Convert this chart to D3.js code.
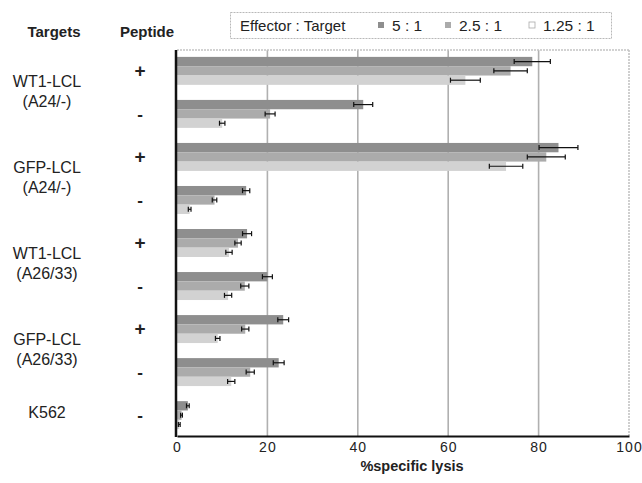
<!DOCTYPE html>
<html>
<head>
<meta charset="utf-8">
<script src="https://cdn.jsdelivr.net/npm/d3@7"></script>
<style>
  body { margin: 0; background: #fff; }
  text { font-family: "Liberation Sans", Arial, sans-serif; fill: #222; }
</style>
</head>
<body>
<script>
const WIDTH = 642;
const HEIGHT = 483;

// one row per target / peptide combination
var groups = ['WT1-A24 +', 'WT1-A24 -', 'GFP-A24 +', 'GFP-A24 -', 'WT1-A26 +', 'WT1-A26 -', 'GFP-A26 +', 'GFP-A26 -', 'K562 -'];
var peptide = ['+', '-', '+', '-', '+', '-', '+', '-', '-'];
var targetLines = [['WT1-LCL', '(A24/-)'], ['GFP-LCL', '(A24/-)'], ['WT1-LCL', '(A26/33)'], ['GFP-LCL', '(A26/33)'], ['K562']];
var targetRows = [[0, 1], [2, 3], [4, 5], [6, 7], [8, 8]];

var ratios = ['5 : 1', '2.5 : 1', '1.25 : 1'];
var lysis5 = [78.6, 41.2, 84.4, 15.3, 15.5, 20.0, 23.5, 22.5, 2.4];
var err5 = [4.0, 2.1, 4.3, 0.8, 1.0, 1.1, 1.2, 1.2, 0.3];
var lysis25 = [73.8, 20.6, 81.7, 8.3, 13.5, 15.0, 15.1, 16.2, 1.0];
var err25 = [3.7, 1.1, 4.2, 0.5, 0.7, 0.9, 0.8, 0.9, 0.2];
var lysis125 = [63.8, 10.0, 72.8, 2.8, 11.5, 11.3, 9.0, 12.0, 0.5];
var err125 = [3.3, 0.6, 3.7, 0.3, 0.7, 0.8, 0.5, 0.8, 0.2];
var xTicks = [0, 20, 40, 60, 80, 100];

var series = [lysis5, lysis25, lysis125];
var errors = [err5, err25, err125];
var fills = ['#8e8e8e', '#ababab', '#d2d2d2'];

var svg = d3.select('body')
    .append('svg')
    .attr('width', WIDTH)
    .attr('height', HEIGHT);

var x = d3.scaleLinear().domain([0, 100]).range([177, 629]);
var y = d3.scaleBand().domain(groups).range([50, 436]).paddingInner(0.35).paddingOuter(0.16);
var yInner = d3.scaleBand().domain(ratios).range([0, y.bandwidth()]);

// grid lines
svg.append('g')
    .selectAll('line')
    .data(xTicks.slice(1))
    .enter()
    .append('line')
    .attr('x1', function(d) { return x(d); })
    .attr('x2', function(d) { return x(d); })
    .attr('y1', 50)
    .attr('y2', 436)
    .attr('stroke', function(d) { return d === 100 ? '#c4c4c4' : '#b0b0b0'; })
    .attr('stroke-width', 1.6)
    .attr('stroke-dasharray', function(d) { return d === 100 ? '2,1' : null; });

svg.append('line')
    .attr('x1', x(0)).attr('x2', x(100) + 1)
    .attr('y1', 50).attr('y2', 50)
    .attr('stroke', '#c4c4c4')
    .attr('stroke-width', 1.4)
    .attr('stroke-dasharray', '2,1');

// bars
var rows = [];
groups.forEach(function(g, i) {
    ratios.forEach(function(r, j) {
        rows.push({ group: g, ratio: r, s: j, value: series[j][i], err: errors[j][i] });
    });
});

svg.append('g')
    .selectAll('rect')
    .data(rows)
    .enter()
    .append('rect')
    .attr('x', x(0))
    .attr('y', function(d) { return y(d.group) + yInner(d.ratio); })
    .attr('width', function(d) { return x(d.value) - x(0); })
    .attr('height', yInner.bandwidth())
    .attr('fill', function(d) { return fills[d.s]; });

// error bars
var eb = svg.append('g')
    .selectAll('g')
    .data(rows)
    .enter()
    .append('g')
    .attr('transform', function(d) {
        return 'translate(0,' + (y(d.group) + yInner(d.ratio) + yInner.bandwidth() / 2) + ')';
    });
eb.append('line')
    .attr('x1', function(d) { return x(d.value - d.err); })
    .attr('x2', function(d) { return x(d.value + d.err); })
    .attr('stroke', '#111')
    .attr('stroke-width', 1.2);
eb.selectAll('.cap')
    .data(function(d) { return [d.value - d.err, d.value + d.err]; })
    .enter()
    .append('line')
    .attr('class', 'cap')
    .attr('x1', function(v) { return x(v); })
    .attr('x2', function(v) { return x(v); })
    .attr('y1', -2.5)
    .attr('y2', 2.5)
    .attr('stroke', '#111')
    .attr('stroke-width', 1.2);

// axes
svg.append('line')
    .attr('x1', 176).attr('x2', 176)
    .attr('y1', 50).attr('y2', 437)
    .attr('stroke', '#111')
    .attr('stroke-width', 2.5);

var xAxis = svg.append('g')
    .attr('transform', 'translate(0,436)')
    .call(d3.axisBottom(x).tickValues(xTicks).tickSize(0).tickPadding(6));
xAxis.select('.domain')
    .attr('stroke', '#111')
    .attr('stroke-width', 2.2);
xAxis.selectAll('text')
    .attr('font-size', 14)
    .attr('letter-spacing', 1)
    .attr('font-family', '"Liberation Sans", Arial, sans-serif')
    .attr('fill', '#222');

svg.append('text')
    .attr('x', 412)
    .attr('y', 471)
    .attr('text-anchor', 'middle')
    .attr('font-size', 14.5)
    .attr('font-weight', 'bold')
    .text('%specific lysis');

// row labels
svg.append('text')
    .attr('x', 54).attr('y', 37)
    .attr('text-anchor', 'middle')
    .attr('font-size', 15)
    .attr('font-weight', 'bold')
    .text('Targets');
svg.append('text')
    .attr('x', 147).attr('y', 37)
    .attr('text-anchor', 'middle')
    .attr('font-size', 15)
    .attr('font-weight', 'bold')
    .text('Peptide');

svg.append('g')
    .selectAll('text')
    .data(groups)
    .enter()
    .append('text')
    .attr('x', 140)
    .attr('y', function(d, i) { return y(d) + y.bandwidth() / 2 + 6; })
    .attr('text-anchor', 'middle')
    .attr('font-size', function(d, i) { return peptide[i] === '+' ? 19 : 17; })
    .attr('font-weight', 'bold')
    .text(function(d, i) { return peptide[i]; });

var tl = svg.append('g')
    .selectAll('text')
    .data(targetLines)
    .enter()
    .append('text')
    .attr('text-anchor', 'middle')
    .attr('font-size', 16)
    .attr('transform', function(d, i) {
        var r = targetRows[i];
        var mid = (y(groups[r[0]]) + y(groups[r[1]])) / 2 + y.bandwidth() / 2;
        var top = d.length === 2 ? mid - 5.5 : mid + 3;
        return 'translate(47,' + top + ')';
    });
tl.selectAll('tspan')
    .data(function(d) { return d; })
    .enter()
    .append('tspan')
    .attr('x', 0)
    .attr('dy', function(d, i) { return i === 0 ? 0 : 20; })
    .text(function(d) { return d; });

// legend
var legend = svg.append('g');
legend.append('rect')
    .attr('x', 230.5).attr('y', 12.5)
    .attr('width', 381).attr('height', 26)
    .attr('fill', '#fff')
    .attr('stroke', '#b8b8b8')
    .attr('stroke-dasharray', '2,1');
legend.append('text')
    .attr('x', 240).attr('y', 31)
    .attr('font-size', 15)
    .text('Effector : Target');

var legendX = [378, 445, 529];
var item = legend.selectAll('.item')
    .data(ratios)
    .enter()
    .append('g')
    .attr('class', 'item')
    .attr('transform', function(d, i) { return 'translate(' + legendX[i] + ',0)'; });
item.append('rect')
    .attr('x', 0).attr('y', 22)
    .attr('width', 6).attr('height', 6)
    .attr('fill', function(d, i) { return i === 2 ? '#fff' : fills[i]; })
    .attr('stroke', function(d, i) { return i === 2 ? '#aaa' : 'none'; })
    .attr('stroke-width', 0.8);
item.append('text')
    .attr('x', 14).attr('y', 31)
    .attr('font-size', 15.5)
    .text(function(d) { return d; });
</script>
</body>
</html>
